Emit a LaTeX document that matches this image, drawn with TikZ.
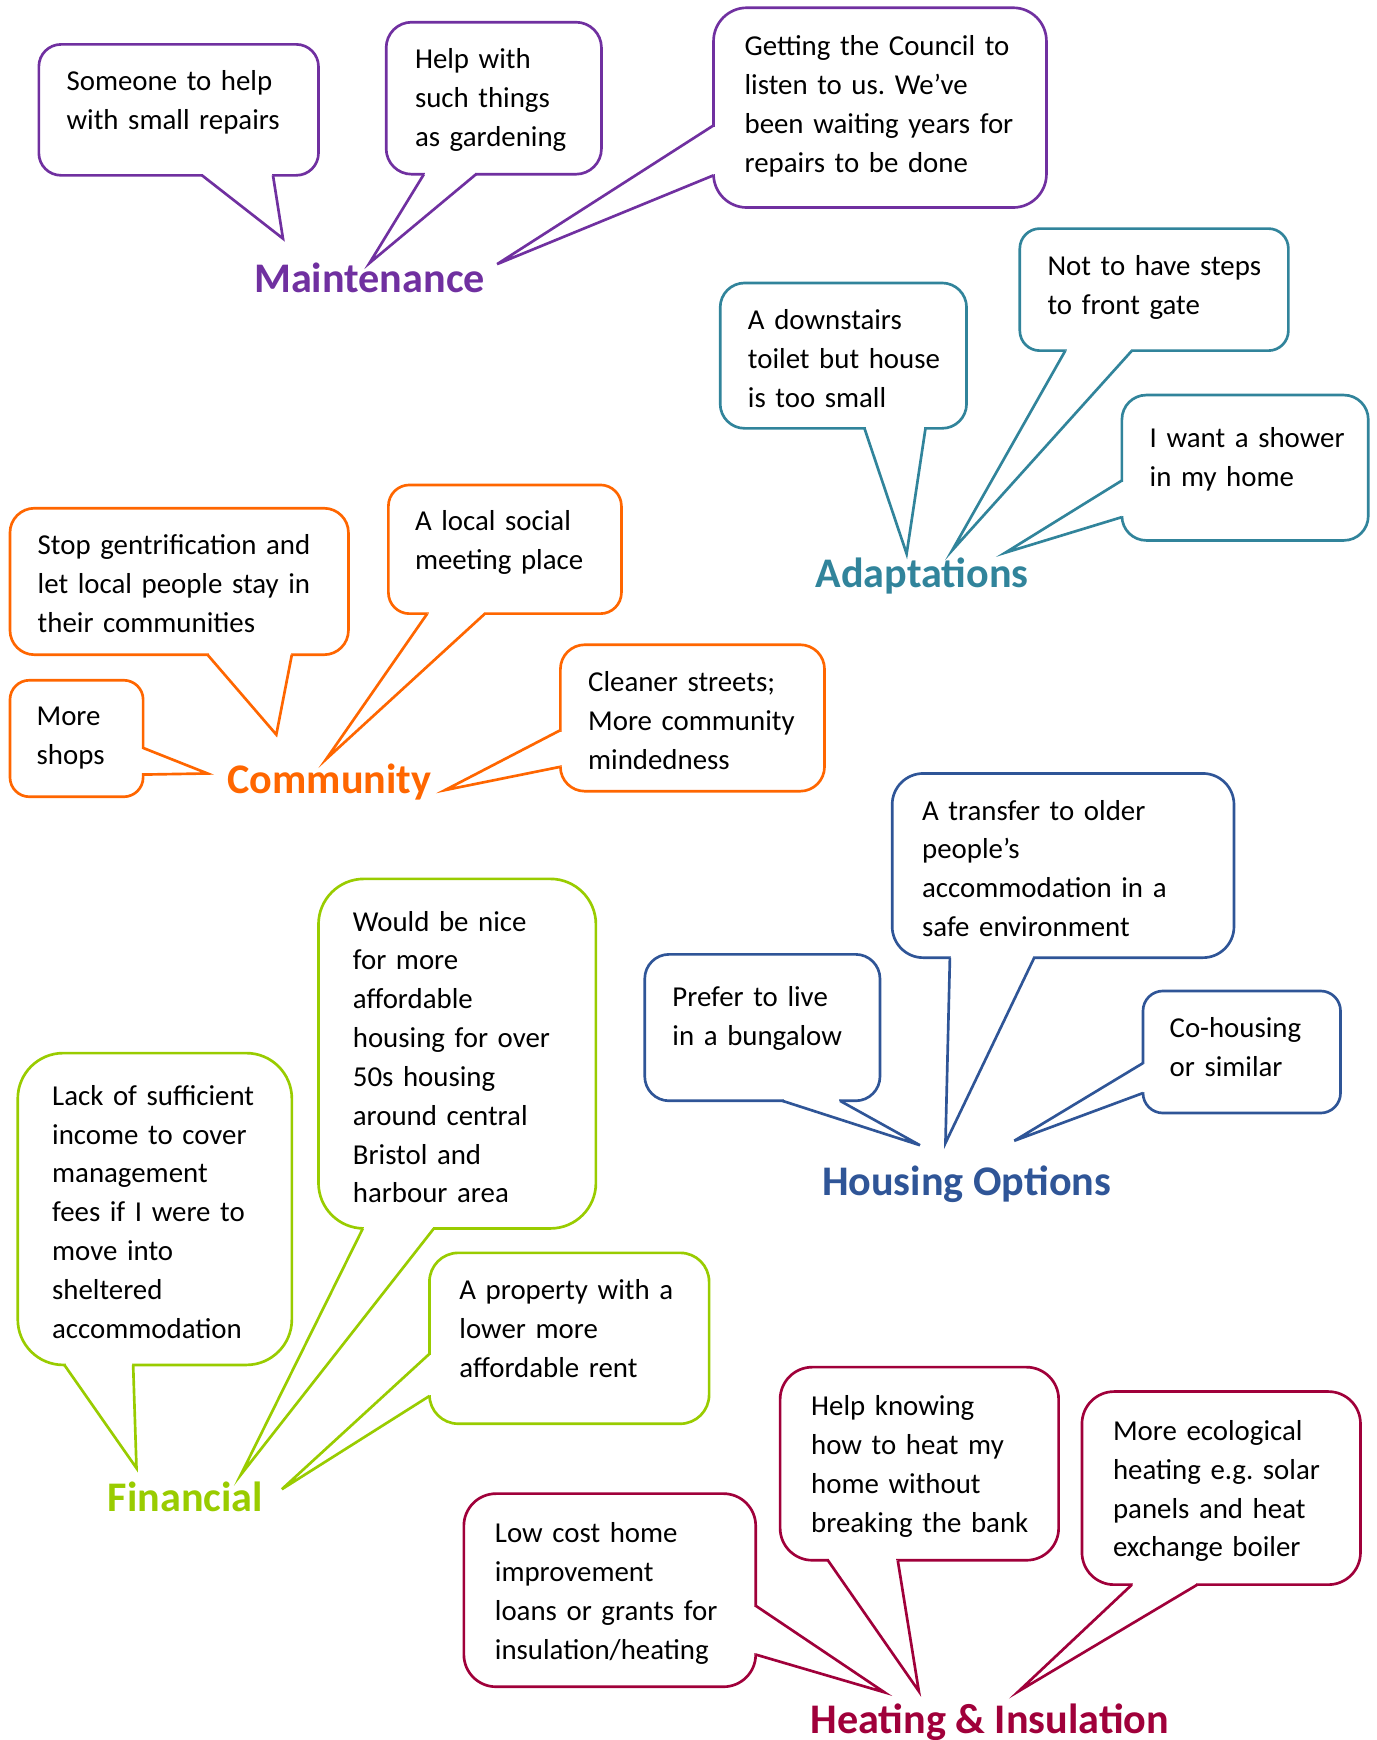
\documentclass[tikz,border=0pt]{standalone}
\usepackage{fontspec}
\setmainfont{Carlito}
\usetikzlibrary{calc}

\definecolor{maintcol}{HTML}{7030A0}
\definecolor{adaptcol}{HTML}{31849B}
\definecolor{commcol}{HTML}{FF6600}
\definecolor{housecol}{HTML}{2F5597}
\definecolor{fincol}{HTML}{99CC00}
\definecolor{heatcol}{HTML}{A0003A}

% lines of a speech bubble, left aligned and never wrapped
\newcommand{\bubbletext}[1]{\begin{tabular}[t]{@{}l@{}}#1\end{tabular}}

% pointer of a speech bubble: colour, base point, tip, base point
\newcommand{\bubbletail}[4]{%
  \draw[white, line width=3.6pt, shorten <=1.2pt, shorten >=1.2pt] (#2) -- (#4);
  \fill[white] (#2) -- (#3) -- (#4) -- cycle;
  \draw[#1, line width=2.4pt, line join=miter] (#2) -- (#3) -- (#4);
}

\begin{document}
\begin{tikzpicture}[x=1pt, y=-1pt,
    bubble/.style={draw=#1, fill=white, line width=2.4pt, outer sep=0pt, inner sep=0pt, text height=42pt,
      font=\fontsize{26}{35}\selectfont\frenchspacing},
    heading/.style={text=#1, anchor=base, inner sep=0pt, font=\fontsize{38}{46}\selectfont\bfseries}
  ]
  \useasboundingbox (0,0) rectangle (1240,1568);
  \clip (0,0) rectangle (1240,1568);

  % Maintenance
  \node[heading=maintcol] (maint) at (333,264) {Maintenance};
  \coordinate (maint-a) at (255,215);
  \coordinate (maint-b) at (333,237);
  \coordinate (maint-c) at (448,238);
  \node[bubble=maintcol, rounded corners=20pt, minimum width=252pt, minimum height=118pt, text width=202pt, text depth=76pt] (repairs) at (161,99) {\bubbletext{Someone to help\\with small repairs}};
  \bubbletail{maintcol}{$(repairs.south west)+(147,0)$}{maint-a}{$(repairs.south west)+(211,0)$}
  \node[bubble=maintcol, rounded corners=23pt, minimum width=194pt, minimum height=137pt, text width=142pt, text depth=95pt] (garden) at (445,88.5) {\bubbletext{Help with\\such things\\as gardening}};
  \bubbletail{maintcol}{$(garden.south west)+(34,0)$}{maint-b}{$(garden.south west)+(81,0)$}
  \node[bubble=maintcol, rounded corners=30pt, minimum width=300pt, minimum height=180pt, text width=244pt, text height=43pt, text depth=137pt] (council) at (793,97) {\bubbletext{Getting the Council to\\listen to us. We’ve\\been waiting years for\\repairs to be done}};
  \bubbletail{maintcol}{$(council.north west)+(0,106)$}{maint-c}{$(council.north west)+(0,151)$}

  % Adaptations
  \node[heading=adaptcol] (adapt) at (831,529) {Adaptations};
  \coordinate (adapt-a) at (817,499);
  \coordinate (adapt-b) at (858,496);
  \coordinate (adapt-c) at (906,498);
  \node[bubble=adaptcol, rounded corners=22pt, minimum width=222pt, minimum height=131pt, text width=172pt, text depth=89pt] (toilet) at (760,320.5) {\bubbletext{A downstairs\\toilet but house\\is too small}};
  \bubbletail{adaptcol}{$(toilet.south west)+(130,0)$}{adapt-a}{$(toilet.south west)+(185,0)$}
  \node[bubble=adaptcol, rounded corners=18pt, minimum width=242pt, minimum height=110pt, text width=192pt, text depth=68pt] (steps) at (1040,261) {\bubbletext{Not to have steps\\to front gate}};
  \bubbletail{adaptcol}{$(steps.south west)+(41,0)$}{adapt-b}{$(steps.south west)+(101,0)$}
  \node[bubble=adaptcol, rounded corners=22pt, minimum width=222pt, minimum height=131pt, text width=172pt, text height=47pt, text depth=84pt] (shower) at (1122,421.5) {\bubbletext{I want a shower\\in my home}};
  \bubbletail{adaptcol}{$(shower.north west)+(0,77)$}{adapt-c}{$(shower.north west)+(0,110)$}

  % Community
  \node[heading=commcol] (comm) at (297,715) {Community};
  \coordinate (comm-a) at (249,662);
  \coordinate (comm-b) at (294,684);
  \coordinate (comm-c) at (187,697);
  \coordinate (comm-d) at (401,712);
  \node[bubble=commcol, rounded corners=22pt, minimum width=305pt, minimum height=132pt, text width=255pt, text depth=90pt] (gentrif) at (161.5,524) {\bubbletext{Stop gentrification and\\let local people stay in\\their communities}};
  \bubbletail{commcol}{$(gentrif.south west)+(178,0)$}{comm-a}{$(gentrif.south west)+(254,0)$}
  \node[bubble=commcol, rounded corners=19pt, minimum width=210pt, minimum height=116pt, text width=162pt, text height=41pt, text depth=75pt] (social) at (455,495) {\bubbletext{A local social\\meeting place}};
  \bubbletail{commcol}{$(social.south west)+(35,0)$}{comm-b}{$(social.south west)+(87,0)$}
  \node[bubble=commcol, rounded corners=17.5pt, minimum width=120pt, minimum height=105pt, text width=72pt, text height=41pt, text depth=64pt] (shops) at (69,665.5) {\bubbletext{More\\shops}};
  \bubbletail{commcol}{$(shops.north east)+(0,61)$}{comm-c}{$(shops.north east)+(0,85)$}
  \node[bubble=commcol, rounded corners=22pt, minimum width=238pt, minimum height=132pt, text width=188pt, text depth=90pt] (streets) at (624,647) {\bubbletext{Cleaner streets;\\More community\\mindedness}};
  \bubbletail{commcol}{$(streets.north west)+(0,77)$}{comm-d}{$(streets.north west)+(0,110)$}

  % Housing Options
  \node[heading=housecol] (house) at (871,1077) {Housing Options};
  \coordinate (house-a) at (852,1030);
  \coordinate (house-b) at (829,1032);
  \coordinate (house-c) at (914,1028);
  \node[bubble=housecol, rounded corners=28pt, minimum width=308pt, minimum height=166pt, text width=254pt, text depth=124pt] (transfer) at (958,780) {\bubbletext{A transfer to older\\people’s\\accommodation in a\\safe environment}};
  \bubbletail{housecol}{$(transfer.south west)+(52,0)$}{house-a}{$(transfer.south west)+(128,0)$}
  \node[bubble=housecol, rounded corners=22pt, minimum width=212pt, minimum height=132pt, text width=162pt, text height=47pt, text depth=85pt] (bungalow) at (687,926) {\bubbletext{Prefer to live\\in a bungalow}};
  \bubbletail{housecol}{$(bungalow.south west)+(124,0)$}{house-b}{$(bungalow.south west)+(176,0)$}
  \node[bubble=housecol, rounded corners=18pt, minimum width=178pt, minimum height=110pt, text width=130pt, text depth=68pt] (cohousing) at (1119,948) {\bubbletext{Co-housing\\or similar}};
  \bubbletail{housecol}{$(cohousing.north west)+(0,65)$}{house-c}{$(cohousing.north west)+(0,92)$}

  % Financial
  \node[heading=fincol] (fin) at (167,1362) {Financial};
  \coordinate (fin-a) at (123,1323);
  \coordinate (fin-b) at (217,1329);
  \coordinate (fin-c) at (254,1342);
  \node[bubble=fincol, rounded corners=41pt, minimum width=247pt, minimum height=281pt, text width=185pt, text height=47pt, text depth=234pt] (income) at (139.5,1089.5) {\bubbletext{Lack of sufficient\\income to cover\\management\\fees if I were to\\move into\\sheltered\\accommodation}};
  \bubbletail{fincol}{$(income.south west)+(42,0)$}{fin-a}{$(income.south west)+(104,0)$}
  \node[bubble=fincol, rounded corners=41pt, minimum width=250pt, minimum height=315pt, text width=188pt, text height=47pt, text depth=268pt] (nice) at (412,949.5) {\bubbletext{Would be nice\\for more\\affordable\\housing for over\\50s housing\\around central\\Bristol and\\harbour area}};
  \bubbletail{fincol}{$(nice.south west)+(40,0)$}{fin-b}{$(nice.south west)+(104,0)$}
  \node[bubble=fincol, rounded corners=26pt, minimum width=252pt, minimum height=154pt, text width=198pt, text depth=112pt] (rent) at (513,1206) {\bubbletext{A property with a\\lower more\\affordable rent}};
  \bubbletail{fincol}{$(rent.north west)+(0,91)$}{fin-c}{$(rent.north west)+(0,129)$}

  % Heating & Insulation
  \node[heading=heatcol] (heat) at (892,1562) {Heating \& Insulation};
  \coordinate (heat-a) at (797,1525);
  \coordinate (heat-b) at (828,1524);
  \coordinate (heat-c) at (918,1524);
  \node[bubble=heatcol, rounded corners=29pt, minimum width=263pt, minimum height=174pt, text width=207pt, text height=44pt, text depth=130pt] (loans) at (549.5,1433) {\bubbletext{Low cost home\\improvement\\loans or grants for\\insulation/heating}};
  \bubbletail{heatcol}{$(loans.north east)+(0,101)$}{heat-a}{$(loans.north east)+(0,145)$}
  \node[bubble=heatcol, rounded corners=29pt, minimum width=251pt, minimum height=174pt, text width=195pt, text height=44pt, text depth=130pt] (knowing) at (828.5,1319) {\bubbletext{Help knowing\\how to heat my\\home without\\breaking the bank}};
  \bubbletail{heatcol}{$(knowing.south west)+(43,0)$}{heat-b}{$(knowing.south west)+(106,0)$}
  \node[bubble=heatcol, rounded corners=29pt, minimum width=251pt, minimum height=174pt, text width=195pt, text height=44pt, text depth=130pt] (ecological) at (1100.5,1341) {\bubbletext{More ecological\\heating e.g. solar\\panels and heat\\exchange boiler}};
  \bubbletail{heatcol}{$(ecological.south west)+(45,0)$}{heat-c}{$(ecological.south west)+(104,0)$}
\end{tikzpicture}
\end{document}
